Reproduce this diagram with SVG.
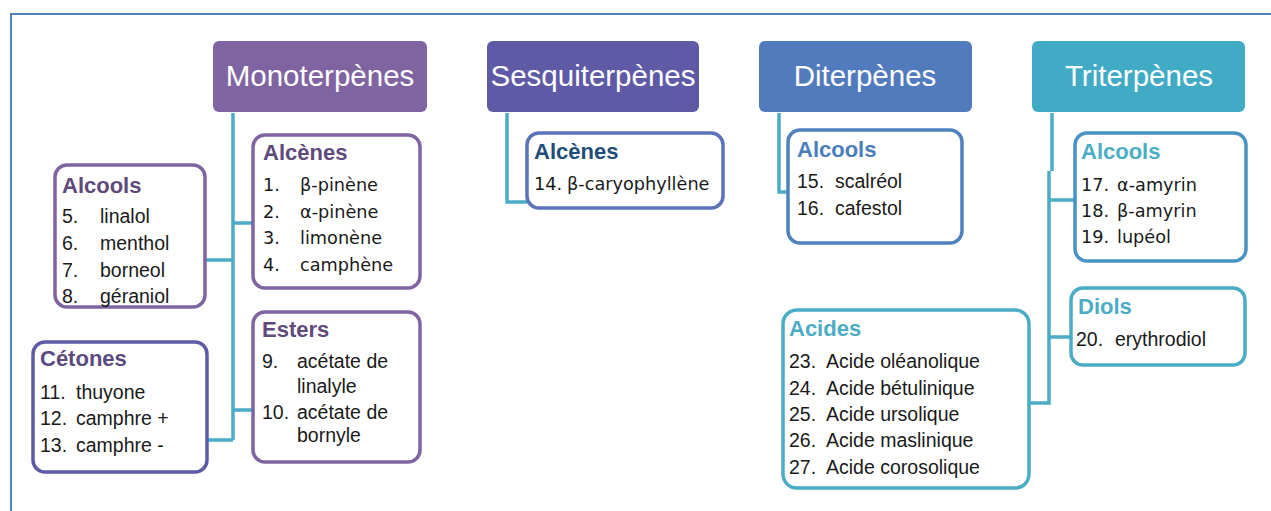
<svg xmlns="http://www.w3.org/2000/svg" width="1271" height="511" viewBox="0 0 1271 511">
<style>
.hdr{font-family:"Liberation Sans",Arial,sans-serif;font-size:29.5px;fill:#fff;text-anchor:middle}
.ttl{font-family:"Liberation Sans",Arial,sans-serif;font-size:22px;font-weight:bold}
.it{font-family:"Liberation Sans",Arial,sans-serif;font-size:19.5px;fill:#1a1a1a}
.it2{font-family:"DejaVu Sans",Verdana,sans-serif;font-size:17.7px;fill:#1a1a1a}
.box{fill:#fff;stroke-width:3.5}
.con{fill:none;stroke:#4BACC6;stroke-width:3.5}
</style>
<rect x="11" y="14" width="1300" height="600" fill="#fff" stroke="#4F81BD" stroke-width="2"/>
<g id="connectors">
<path class="con" d="M233 113 V440 M233 223 H253 M205 260 H233 M233 410 H253 M207 440 H233"/>
<path class="con" d="M507 113 V202 H527"/>
<path class="con" d="M779 113 V192 H789"/>
<path class="con" d="M1052 113 V171 M1049 171 V403 H1028 M1049 200 H1075 M1049 337 H1070"/>
</g>
<g id="monoterpenes"><rect x="213" y="41" width="214" height="71" rx="6" fill="#8064A2"/><text class="hdr" x="320" y="86">Monoterpènes</text></g>
<g id="sesquiterpenes"><rect x="487" y="41" width="212" height="71" rx="6" fill="#5F5AA6"/><text class="hdr" x="593" y="86">Sesquiterpènes</text></g>
<g id="diterpenes"><rect x="759" y="41" width="213" height="71" rx="6" fill="#527BBE"/><text class="hdr" x="865" y="86">Diterpènes</text></g>
<g id="triterpenes"><rect x="1032" y="41" width="213" height="71" rx="6" fill="#41ABC6"/><text class="hdr" x="1139" y="86">Triterpènes</text></g>

<g id="mono-alcools"><rect class="box" x="55" y="165" width="150" height="142" rx="12" stroke="#8064A2"/>
<text class="ttl" x="62" y="193" fill="#604A7B">Alcools</text>
<g class="it"><text x="62" y="223">5.</text><text x="100" y="223">linalol</text><text x="62" y="250">6.</text><text x="100" y="250">menthol</text><text x="62" y="277">7.</text><text x="100" y="277">borneol</text><text x="62" y="303">8.</text><text x="100" y="303">géraniol</text></g></g>

<g id="mono-alcenes"><rect class="box" x="253" y="135" width="167" height="153" rx="12" stroke="#8064A2"/>
<text class="ttl" x="263" y="160" fill="#604A7B">Alcènes</text>
<g class="it2"><text x="263" y="191">1.</text><text x="300" y="191">β-pinène</text><text x="263" y="218">2.</text><text x="300" y="218">α-pinène</text><text x="263" y="244">3.</text><text x="300" y="244">limonène</text><text x="263" y="271">4.</text><text x="300" y="271">camphène</text></g></g>

<g id="mono-esters"><rect class="box" x="253" y="312" width="167" height="150" rx="12" stroke="#8064A2"/>
<text class="ttl" x="262" y="337" fill="#604A7B">Esters</text>
<g class="it"><text x="262" y="368">9.</text><text x="297" y="368">acétate de</text><text x="297" y="393">linalyle</text><text x="262" y="419">10.</text><text x="297" y="419">acétate de</text><text x="297" y="442">bornyle</text></g></g>

<g id="mono-cetones"><rect class="box" x="33" y="342" width="174" height="130" rx="12" stroke="#5F5AA6"/>
<text class="ttl" x="40" y="366" fill="#5A4A80">Cétones</text>
<g class="it"><text x="40" y="399">11.</text><text x="76" y="399">thuyone</text><text x="40" y="425">12.</text><text x="76" y="425">camphre +</text><text x="40" y="452">13.</text><text x="76" y="452">camphre -</text></g></g>

<g id="sesqui-alcenes"><rect class="box" x="527" y="133" width="196" height="75" rx="12" stroke="#5A73BA"/>
<text class="ttl" x="534" y="159" fill="#1F4E79">Alcènes</text>
<g class="it2"><text x="534" y="190">14.</text><text x="567" y="190">β-caryophyllène</text></g></g>

<g id="di-alcools"><rect class="box" x="788" y="130" width="174" height="113" rx="12" stroke="#4F81BD"/>
<text class="ttl" x="797" y="157" fill="#4A7EBB">Alcools</text>
<g class="it"><text x="797" y="188">15.</text><text x="835" y="188">scalréol</text><text x="797" y="215">16.</text><text x="835" y="215">cafestol</text></g></g>

<g id="tri-alcools"><rect class="box" x="1075" y="133" width="171" height="128" rx="12" stroke="#4A94C4"/>
<text class="ttl" x="1081" y="159" fill="#4BACC6">Alcools</text>
<g class="it2"><text x="1081" y="191">17.</text><text x="1117" y="191">α-amyrin</text><text x="1081" y="217">18.</text><text x="1117" y="217">β-amyrin</text><text x="1081" y="243">19.</text><text x="1117" y="243">lupéol</text></g></g>

<g id="tri-diols"><rect class="box" x="1071" y="288" width="174" height="77" rx="12" stroke="#4BACC6"/>
<text class="ttl" x="1078" y="314" fill="#4BACC6">Diols</text>
<g class="it"><text x="1076" y="346">20.</text><text x="1115" y="346">erythrodiol</text></g></g>

<g id="tri-acides"><rect class="box" x="783" y="310" width="246" height="178" rx="14" stroke="#4BACC6"/>
<text class="ttl" x="789" y="336" fill="#4BACC6">Acides</text>
<g class="it"><text x="789" y="368">23.</text><text x="826" y="368">Acide oléanolique</text><text x="789" y="395">24.</text><text x="826" y="395">Acide bétulinique</text><text x="789" y="421">25.</text><text x="826" y="421">Acide ursolique</text><text x="789" y="447">26.</text><text x="826" y="447">Acide maslinique</text><text x="789" y="474">27.</text><text x="826" y="474">Acide corosolique</text></g></g>
</svg>
